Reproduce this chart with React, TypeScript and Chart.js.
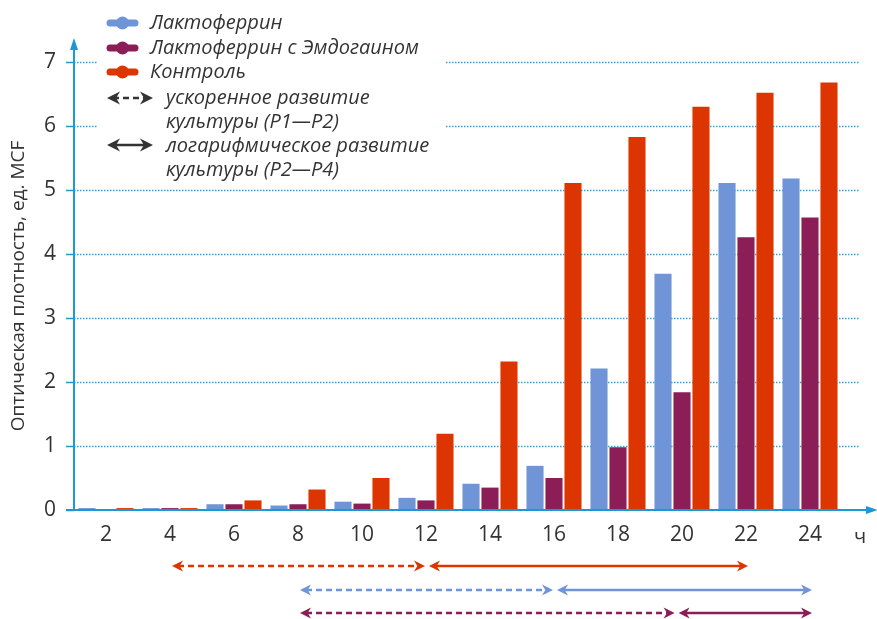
import React, { useEffect, useRef } from 'react';
import { Chart, registerables } from 'chart.js';

Chart.register(...registerables);

// ---- data ----
const hours = ['2', '4', '6', '8', '10', '12', '14', '16', '18', '20', '22', '24'];
const lactoferrin = [0.03, 0.03, 0.09, 0.07, 0.13, 0.19, 0.41, 0.69, 2.21, 3.69, 5.11, 5.18];
const lactoEmdo = [0.01, 0.03, 0.09, 0.09, 0.10, 0.15, 0.35, 0.50, 0.98, 1.84, 4.26, 4.57];
const control = [0.03, 0.03, 0.15, 0.32, 0.50, 1.19, 2.32, 5.11, 5.83, 6.30, 6.52, 6.68];
const yTicks = [0, 1, 2, 3, 4, 5, 6, 7];
const seriesNames = ['Лактоферрин', 'Лактоферрин с Эмдогаином', 'Контроль'];
const yTitle = 'Оптическая плотность, ед. MCF';
const xUnit = 'ч';
// phases in hours: [start, switch P2, end]
const controlPhases = [4, 12, 22];
const lactoPhases = [8, 16, 24];
const emdoPhases = [8, 19.8, 24];
const legendDashed = ['ускоренное развитие', 'культуры (P1—P2)'];
const legendSolid = ['логарифмическое развитие', 'культуры (P2—P4)'];

// ---- styles ----
const BLUE = '#6f94d8';
const PURPLE = '#8b1e57';
const ORANGE = '#dc3500';
const AXIS = '#1b98d8';
const GRID = '#3aa0da';
const TEXT = '#333333';
const FONT = "'Open Sans', 'Noto Sans', sans-serif";

function arrowHead(ctx: CanvasRenderingContext2D, x: number, y: number, dir: number, len: number, half: number) {
  ctx.beginPath();
  ctx.moveTo(x, y);
  ctx.lineTo(x - dir * len, y - half);
  ctx.lineTo(x - dir * len * 0.7, y);
  ctx.lineTo(x - dir * len, y + half);
  ctx.closePath();
  ctx.fill();
}

function dblArrow(ctx: CanvasRenderingContext2D, x1: number, x2: number, y: number, color: string, dashed: boolean, big = false) {
  ctx.save();
  ctx.strokeStyle = color;
  ctx.fillStyle = color;
  ctx.lineWidth = 2.5;
  ctx.setLineDash(dashed ? [6, 4] : []);
  ctx.beginPath();
  ctx.moveTo(x1 + 6, y);
  ctx.lineTo(x2 - 6, y);
  ctx.stroke();
  ctx.setLineDash([]);
  const len = big ? 13 : 11;
  const half = big ? 6.5 : 5.5;
  arrowHead(ctx, x1, y, -1, len, half);
  arrowHead(ctx, x2, y, 1, len, half);
  ctx.restore();
}

const hourToIndex = (h: number) => (h - 2) / 2;

const decorPlugin = {
  id: 'decor',
  beforeDatasetsDraw(chart: any) {
    const ctx = chart.ctx as CanvasRenderingContext2D;
    const ys = chart.scales.y;
    const ca = chart.chartArea;
    ctx.save();
    yTicks.forEach((v) => {
      const y = Math.round(ys.getPixelForValue(v)) + 0.5;
      ctx.strokeStyle = AXIS;
      ctx.lineWidth = 1.5;
      ctx.setLineDash([]);
      ctx.beginPath();
      ctx.moveTo(ca.left - 8, y);
      ctx.lineTo(ca.left, y);
      ctx.stroke();
      if (v > 0) {
        ctx.strokeStyle = GRID;
        ctx.lineWidth = 1.3;
        ctx.setLineDash([1.5, 1.5]);
        ctx.beginPath();
        ctx.moveTo(ca.left, y);
        ctx.lineTo(ca.right + 18, y);
        ctx.stroke();
      }
    });
    ctx.restore();
  },
  afterDraw(chart: any) {
    const ctx = chart.ctx as CanvasRenderingContext2D;
    const xs = chart.scales.x;
    const ca = chart.chartArea;
    ctx.save();
    // axes
    ctx.strokeStyle = AXIS;
    ctx.fillStyle = AXIS;
    ctx.lineWidth = 2;
    ctx.beginPath();
    ctx.moveTo(ca.left, ca.bottom);
    ctx.lineTo(ca.left, ca.top - 18);
    ctx.stroke();
    ctx.beginPath();
    ctx.moveTo(ca.left - 8, ca.bottom);
    ctx.lineTo(ca.right + 30, ca.bottom);
    ctx.stroke();
    // arrow heads
    ctx.beginPath();
    ctx.moveTo(ca.left, ca.top - 24);
    ctx.lineTo(ca.left - 4, ca.top - 12);
    ctx.lineTo(ca.left + 4, ca.top - 12);
    ctx.closePath();
    ctx.fill();
    ctx.beginPath();
    ctx.moveTo(ca.right + 36, ca.bottom);
    ctx.lineTo(ca.right + 24, ca.bottom - 4);
    ctx.lineTo(ca.right + 24, ca.bottom + 4);
    ctx.closePath();
    ctx.fill();

    // unit label
    ctx.fillStyle = TEXT;
    ctx.font = `20px ${FONT}`;
    ctx.textAlign = 'center';
    ctx.textBaseline = 'middle';
    ctx.fillText(xUnit, ca.right + 18, ca.bottom + 27);

    // phase arrows
    const rows: [number[], string, number][] = [
      [controlPhases, ORANGE, 566],
      [lactoPhases, BLUE, 590],
      [emdoPhases, PURPLE, 613],
    ];
    rows.forEach(([p, c, y]) => {
      const a = xs.getPixelForValue(hourToIndex(p[0]));
      const b = xs.getPixelForValue(hourToIndex(p[1]));
      const e = xs.getPixelForValue(hourToIndex(p[2]));
      dblArrow(ctx, a + 2, b - 1, y, c, true);
      dblArrow(ctx, b + 3, e + 2, y, c, false);
    });

    // legend
    ctx.fillStyle = '#ffffff';
    ctx.fillRect(97, 0, 348, 182);
    const cols = [BLUE, PURPLE, ORANGE];
    const ly = [23, 48, 72];
    cols.forEach((c, i) => {
      ctx.strokeStyle = c;
      ctx.fillStyle = c;
      ctx.lineWidth = 7;
      ctx.lineCap = 'round';
      ctx.beginPath();
      ctx.moveTo(110, ly[i]);
      ctx.lineTo(135, ly[i]);
      ctx.stroke();
      ctx.beginPath();
      ctx.arc(122.5, ly[i], 6.5, 0, Math.PI * 2);
      ctx.fill();
      ctx.fillStyle = TEXT;
      ctx.font = `italic 20px ${FONT}`;
      ctx.textAlign = 'left';
      ctx.textBaseline = 'middle';
      ctx.fillText(seriesNames[i], 150, ly[i]);
    });
    ctx.lineCap = 'butt';
    dblArrow(ctx, 107, 153, 98, TEXT, true, true);
    dblArrow(ctx, 107, 153, 145, TEXT, false, true);
    ctx.fillStyle = TEXT;
    ctx.font = `italic 20px ${FONT}`;
    ctx.textAlign = 'left';
    ctx.textBaseline = 'middle';
    ctx.fillText(legendDashed[0], 166, 98);
    ctx.fillText(legendDashed[1], 166, 122);
    ctx.fillText(legendSolid[0], 166, 146);
    ctx.fillText(legendSolid[1], 166, 170);
    ctx.restore();
  },
};

export default function App() {
  const ref = useRef<HTMLCanvasElement | null>(null);
  useEffect(() => {
    document.body.style.margin = '0';
    const canvas = ref.current!;
    const chart = new Chart(canvas, {
      type: 'bar',
      data: {
        labels: hours,
        datasets: [
          { label: seriesNames[0], data: lactoferrin, backgroundColor: BLUE },
          { label: seriesNames[1], data: lactoEmdo, backgroundColor: PURPLE },
          { label: seriesNames[2], data: control, backgroundColor: ORANGE },
        ],
      },
      options: {
        responsive: false,
        animation: false,
        devicePixelRatio: 1,
        layout: { padding: { top: 62, right: 35, bottom: 0, left: 0 } },
        datasets: { bar: { categoryPercentage: 0.89, barPercentage: 0.9 } },
        plugins: { legend: { display: false }, tooltip: { enabled: false } },
        scales: {
          x: {
            type: 'category',
            offset: true,
            grid: { display: false, drawTicks: false },
            border: { display: false },
            ticks: { color: TEXT, font: { family: FONT, size: 21 }, padding: 12, maxRotation: 0 },
            afterFit: (s: any) => { s.height = 109; },
          },
          y: {
            min: 0,
            max: 7,
            grid: { display: false, drawTicks: false },
            border: { display: false },
            ticks: { stepSize: 1, color: TEXT, font: { family: FONT, size: 21 }, padding: 18 },
            title: { display: true, text: yTitle, color: TEXT, font: { family: FONT, size: 19 }, padding: { top: 7, bottom: 0 } },
            afterFit: (s: any) => { s.width = 74; },
          },
        },
      },
      plugins: [decorPlugin],
    } as any);
    return () => chart.destroy();
  }, []);
  return (
    <div style={{ width: 877, height: 619 }}>
      <canvas ref={ref} width={877} height={619} style={{ display: 'block' }} />
    </div>
  );
}
